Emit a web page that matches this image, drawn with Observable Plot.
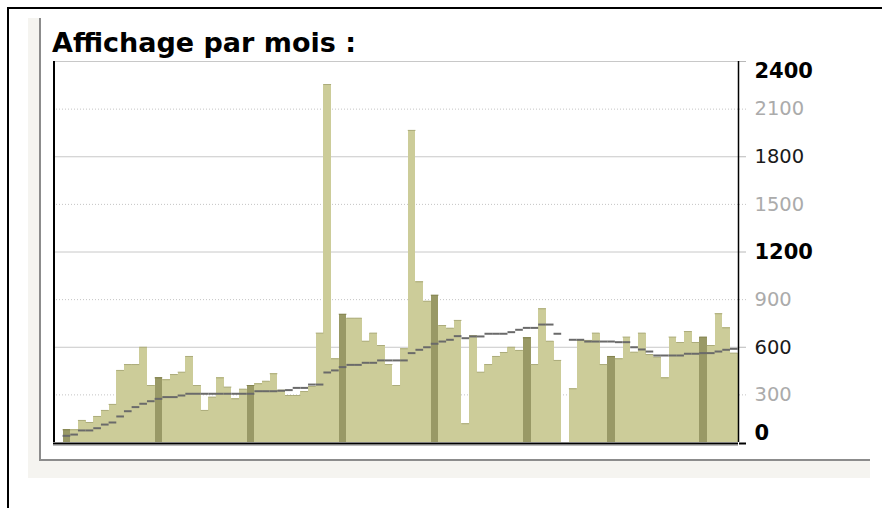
<!DOCTYPE html>
<html>
<head>
<meta charset="utf-8">
<script src="https://cdn.jsdelivr.net/npm/d3@7"></script>
<script src="https://cdn.jsdelivr.net/npm/@observablehq/plot@0.6"></script>
<style>
html,body{margin:0;padding:0;background:#fff;width:882px;height:508px;overflow:hidden;position:relative;font-family:"DejaVu Sans",sans-serif}
#frame{position:absolute;left:7px;top:7px;width:900px;height:600px;border-left:2px solid #000;border-top:2px solid #000}
#bg{position:absolute;left:28px;top:18px;width:842px;height:460px;background:#f5f4f0}
#panel{position:absolute;left:39px;top:18px;width:831px;height:443px;box-sizing:border-box;background:#fff;border-left:2px solid #8c8c8c;border-bottom:2px solid #8c8c8c}
#title{position:absolute;left:52px;top:29px;font-family:"DejaVu Sans";font-weight:bold;font-size:27px;line-height:1;color:#000;white-space:nowrap}
#chart{position:absolute;left:0;top:0}
#chart svg{background:transparent !important;overflow:visible}
</style>
</head>
<body>
<div id="frame"></div>
<div id="bg"></div>
<div id="panel"></div>
<div id="title">Affichage par mois :</div>
<div id="chart"></div>
<script>
// monthly page views (index = month slot)
const views = [80,80,139,126,164,202,240,454,491,491,600,359,
  407,395,428,443,542,359,202,286,407,349,275,336,
  359,370,386,433,330,296,296,321,353,689,2255,527,
  808,783,783,638,689,611,491,359,590,1966,1012,890,
  928,737,720,769,118,674,443,491,542,567,600,580,
  659,491,842,638,517,null,338,643,643,689,491,
  542,527,664,569,689,554,538,407,664,630,699,630,
  664,611,811,722,563];
// trend (average) line
const trend = [42,50,76,76,90,113,126,164,197,223,244,260,
  275,286,286,296,307,307,307,307,307,307,307,307,
  307,323,323,323,326,330,344,344,365,365,441,454,
  475,489,489,502,502,517,517,517,517,563,584,600,
  622,636,647,670,657,668,668,685,685,685,695,710,
  722,722,743,743,685,null,647,647,636,636,636,
  636,632,632,600,586,573,548,548,548,548,559,559,
  563,563,573,584,590];
const januaryIndex = [0,12,24,36,48,60,71,83];
const months = d3.range(views.length);
const boldTicks = [0,1200,2400];
const darkTicks = [600,1800];
const grayTicks = [300,900,1500,2100];
const solidGrid = [600,1200,1800,2400];
const dottedGrid = [300,900,1500,2100];
const xDomain = [-1.25, 88.05];

const data = months.map((m,i)=>({x1:m, x2:m+1, value:views[i], trend:trend[i], jan:januaryIndex.includes(i)}));
const bars = data.filter(d=>d.value!=null && d.value>0);
const trendData = data.filter(d=>d.trend!=null);
const font = "DejaVu Sans";

const chart = Plot.plot({
  width: 882, height: 508,
  marginLeft: 53, marginRight: 144, marginTop: 61, marginBottom: 66,
  style: {background:"transparent", overflow:"visible", fontFamily: font},
  x: {domain: xDomain, axis: null},
  y: {domain: [0,2400], axis: null},
  marks: [
    Plot.ruleY(solidGrid, {stroke:"#c8c8c8", strokeWidth:1}),
    Plot.ruleY(dottedGrid, {stroke:"#c4c4c4", strokeWidth:1, strokeDasharray:"1,2"}),
    Plot.axisY(solidGrid, {anchor:"right", tickSize:7, stroke:"#b8b8b8", fill:"none", label:null}),
    Plot.axisY(dottedGrid, {anchor:"right", tickSize:7, stroke:"#c4c4c4", strokeDasharray:"1,2", fill:"none", label:null}),
    Plot.rectY(bars, {x1:"x1", x2:"x2", y1:0, y2:"value", fill: d=>d.jan ? "#999966" : "#cccc99", shapeRendering:"crispEdges"}),
    Plot.ruleY(bars, {x1:"x1", x2:"x2", y:"value", stroke: d=>d.jan ? "#83834f" : "#acac7c", strokeWidth:1}),
    Plot.ruleY(trendData, {x1:"x1", x2:"x2", y:"trend", stroke:"#6a6a6a", strokeWidth:2}),
    Plot.ruleX([xDomain[0]], {stroke:"#000", strokeWidth:2, dx:0.5}),
    Plot.ruleX([xDomain[1]], {stroke:"#000", strokeWidth:1.5}),
    Plot.ruleY([0], {stroke:"#000", strokeWidth:2, dy:1}),
    Plot.ruleY([0], {stroke:"#bbb", strokeWidth:1, dy:3}),
    Plot.axisY([0], {anchor:"right", tickSize:7, stroke:"#000", strokeWidth:2, dy:1, fill:"none", label:null}),
    Plot.text(boldTicks.filter(d=>d===2400), {y:d=>d, text:d=>String(d), frameAnchor:"right", dx:16, dy:10, textAnchor:"start", fontWeight:"bold", fontSize:21, fontFamily:font, fill:"#000"}),
    Plot.text(boldTicks.filter(d=>d===1200), {y:d=>d, text:d=>String(d), frameAnchor:"right", dx:16, textAnchor:"start", fontWeight:"bold", fontSize:21, fontFamily:font, fill:"#000"}),
    Plot.text(boldTicks.filter(d=>d===0), {y:d=>d, text:d=>String(d), frameAnchor:"right", dx:16, dy:-9, textAnchor:"start", fontWeight:"bold", fontSize:21, fontFamily:font, fill:"#000"}),
    Plot.text(darkTicks, {y:d=>d, text:d=>String(d), frameAnchor:"right", dx:16, textAnchor:"start", fontSize:19.5, fontFamily:font, fill:"#1a1a1a"}),
    Plot.text(grayTicks, {y:d=>d, text:d=>String(d), frameAnchor:"right", dx:16, textAnchor:"start", fontSize:19.5, fontFamily:font, fill:"#ababab"})
  ]
});
document.getElementById("chart").appendChild(chart);
</script>
</body>
</html>
